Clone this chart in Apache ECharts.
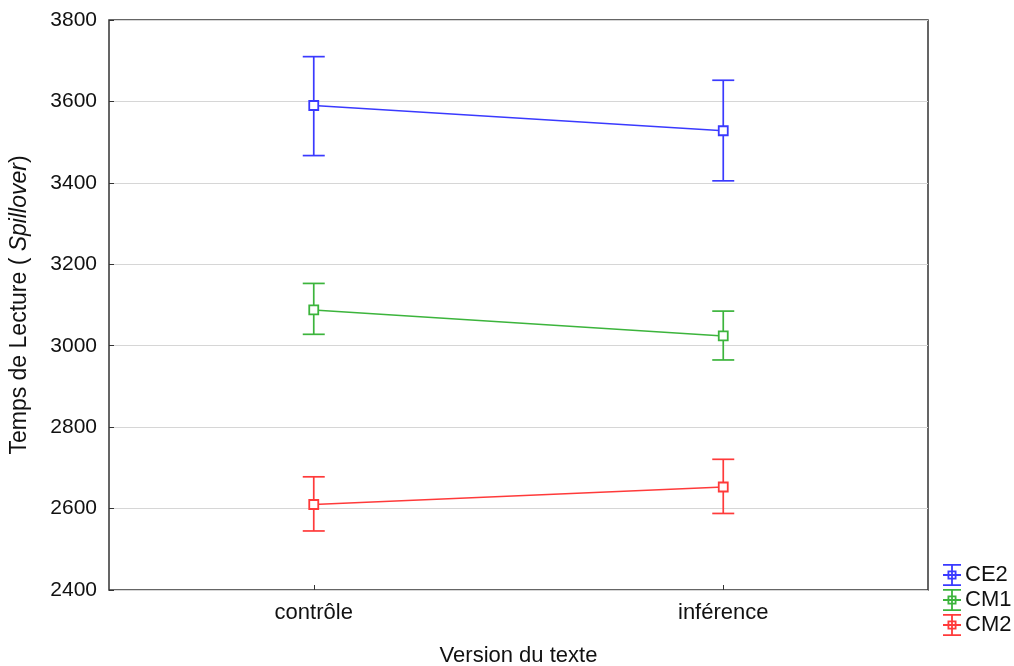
<!DOCTYPE html>
<html>
<head>
<meta charset="utf-8">
<script src="https://cdn.jsdelivr.net/npm/echarts@6/dist/echarts.min.js"></script>
<style>html,body{margin:0;padding:0;background:#fff;}#c{width:1014px;height:666px;}</style>
</head>
<body>
<div id="c"></div>
<script>
const categories = ['contrôle', 'inférence'];
const seriesNames = ['CE2', 'CM1', 'CM2'];
const meanCE2 = [3590, 3528];
const lowCE2 = [3467, 3405];
const highCE2 = [3710, 3652];
const meanCM1 = [3088, 3024];
const lowCM1 = [3028, 2965];
const highCM1 = [3153, 3085];
const meanCM2 = [2610, 2653];
const lowCM2 = [2545, 2588];
const highCM2 = [2678, 2721];
const yTicks = [2400, 2600, 2800, 3000, 3200, 3400, 3600, 3800];
const colors = ['#3a3aff', '#3cb43c', '#ff3a3a'];

const means = [meanCE2, meanCM1, meanCM2];
const lows = [lowCE2, lowCM1, lowCM2];
const highs = [highCE2, highCM1, highCM2];

const iconPath = 'path://M0,0h18v1.8h-18zM8.1,0h1.8v22h-1.8zM0,20.2h18v1.8h-18zM0,10.1h18v1.8h-18zM4.5,6.5h9v9h-9zM6.3,8.3v5.4h5.4v-5.4z';

function errRender(color) {
  return function (params, api) {
    const x = api.value(0);
    const lo = api.coord([x, api.value(1)]);
    const hi = api.coord([x, api.value(2)]);
    const hw = 11;
    const st = { stroke: color, lineWidth: 1.7 };
    return {
      type: 'group',
      children: [
        { type: 'line', shape: { x1: lo[0], y1: lo[1], x2: hi[0], y2: hi[1] }, style: st },
        { type: 'line', shape: { x1: lo[0] - hw, y1: lo[1], x2: lo[0] + hw, y2: lo[1] }, style: st },
        { type: 'line', shape: { x1: hi[0] - hw, y1: hi[1], x2: hi[0] + hw, y2: hi[1] }, style: st }
      ]
    };
  };
}

const series = [];
seriesNames.forEach(function (n, i) {
  series.push({
    name: n,
    type: 'custom',
    renderItem: errRender(colors[i]),
    itemStyle: { color: colors[i] },
    data: categories.map(function (c, j) { return [j, lows[i][j], highs[i][j]]; }),
    z: 3
  });
});
seriesNames.forEach(function (n, i) {
  series.push({
    name: n,
    type: 'line',
    data: means[i],
    symbol: 'rect',
    symbolSize: 9,
    itemStyle: { color: '#ffffff', borderColor: colors[i], borderWidth: 1.8 },
    lineStyle: { color: colors[i], width: 1.5 },
    z: 4
  });
});

const chart = echarts.init(document.getElementById('c'));
chart.setOption({
  animation: false,
  textStyle: { fontFamily: 'Liberation Sans, Arial, sans-serif' },
  grid: { left: 109, right: 86, top: 20, bottom: 76, outerBoundsMode: 'none', containLabel: false, show: true, borderColor: '#333', borderWidth: 1.5, backgroundColor: 'transparent' },
  legend: {
    orient: 'vertical',
    left: 938,
    top: 559,
    itemWidth: 18,
    itemHeight: 22,
    itemGap: 3,
    icon: iconPath,
    data: seriesNames.map(function (n, i) {
      return { name: n, icon: iconPath, itemStyle: { color: colors[i], borderWidth: 0 } };
    }),
    textStyle: { fontSize: 22, color: '#111', padding: [0, 0, 0, -1] }
  },
  xAxis: {
    type: 'category',
    data: categories,
    boundaryGap: true,
    name: 'Version du texte',
    nameLocation: 'middle',
    nameGap: 55,
    nameTextStyle: { fontSize: 22, color: '#111' },
    axisLine: { show: false },
    axisTick: { show: true, inside: true, length: 5, alignWithLabel: true, lineStyle: { color: '#333' } },
    axisLabel: { fontSize: 22, color: '#111', margin: 12 },
    splitLine: { show: false }
  },
  yAxis: {
    type: 'value',
    min: 2400,
    max: 3800,
    interval: 200,
    name: 'Temps de Lecture ( {i|Spillover})',
    nameLocation: 'middle',
    nameGap: 78,
    nameRotate: 90,
    nameTextStyle: { fontSize: 23, color: '#111', rich: { i: { fontStyle: 'italic', fontSize: 23, color: '#111' } } },
    axisLine: { show: false },
    axisTick: { show: true, inside: true, length: 5, lineStyle: { color: '#333' } },
    axisLabel: { fontSize: 21, color: '#111', margin: 12, formatter: function (v) { return yTicks.indexOf(v) >= 0 ? String(v) : ''; } },
    splitLine: { show: true, lineStyle: { color: '#d6d6d6', width: 1.2 } }
  },
  series: series
});
</script>
</body>
</html>
